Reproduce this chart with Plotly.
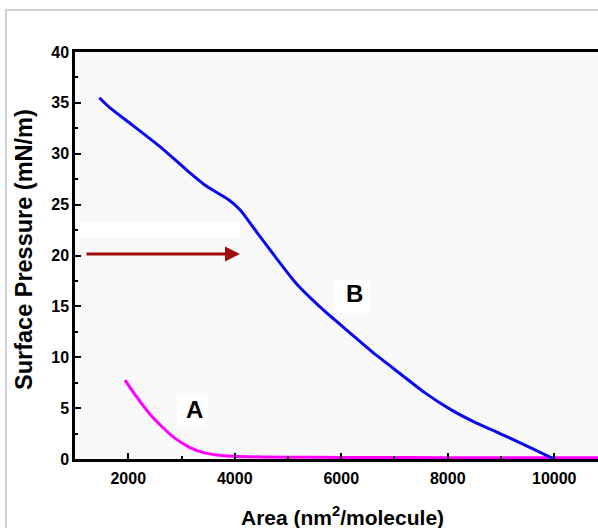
import plotly.graph_objects as go

# ---- data ----
area_A = [1939, 2158, 2408, 2659, 2900, 3150, 3400, 3660, 3970, 4500, 5500, 6500, 8000, 9500, 10822]
pressure_A = [7.76, 6.1, 4.4, 3.05, 1.95, 1.15, 0.65, 0.4, 0.27, 0.2, 0.17, 0.15, 0.13, 0.12, 0.12]

area_B = [1457, 1657, 2033, 2596, 3097, 3473, 3879, 4099, 4412, 4787, 5163, 5695,
          6164, 6634, 7103, 7573, 8042, 8512, 8981, 9601, 9977]
pressure_B = [35.5, 34.5, 33.0, 30.7, 28.4, 26.8, 25.5, 24.5, 22.3, 19.7, 17.2, 14.5,
              12.4, 10.3, 8.4, 6.5, 4.9, 3.6, 2.5, 1.0, 0.05]

x_ticks = [2000, 4000, 6000, 8000, 10000]
y_ticks = [0, 5, 10, 15, 20, 25, 30, 35, 40]

labels = ["A", "B"]
label_x = [3235, 6258]
label_y = [4.9, 16.3]

arrow_start = (1188, 20.15)
arrow_end = (4099, 20.15)

FONT = "Liberation Sans, Arial, sans-serif"

fig = go.Figure()
fig.add_trace(go.Scatter(x=area_A, y=pressure_A, mode="lines",
                         line=dict(color="#ff00ff", width=3, shape="spline", smoothing=0.6),
                         showlegend=False, cliponaxis=True))
fig.add_trace(go.Scatter(x=area_B, y=pressure_B, mode="lines",
                         line=dict(color="#0a0af0", width=3, shape="spline", smoothing=0.6),
                         showlegend=False, cliponaxis=True))

shapes = [
    # outer light-gray frame
    dict(type="rect", xref="paper", yref="paper", x0=-0.132, x1=1.2, y0=-0.5, y1=1.103,
         line=dict(color="#c4c4c4", width=1.5), fillcolor="rgba(0,0,0,0)", layer="below"),
    # white strip above arrow
    dict(type="rect", xref="x", yref="y", x0=1094, x1=4099, y0=21.7, y1=23.3,
         line=dict(width=0), fillcolor="white", layer="below"),
    # white boxes behind labels
    dict(type="rect", xref="x", yref="y", x0=2915, x1=3498, y0=3.14, y1=6.29,
         line=dict(width=0), fillcolor="white", layer="below"),
    dict(type="rect", xref="x", yref="y", x0=5883, x1=6521, y0=14.35, y1=17.6,
         line=dict(width=0), fillcolor="white", layer="below"),
]

annotations = []
for t, lx, ly in zip(labels, label_x, label_y):
    annotations.append(dict(x=lx, y=ly, xref="x", yref="y", text=t, showarrow=False,
                            font=dict(family=FONT, size=24, color="black", weight="bold"),
                            xanchor="center", yanchor="middle"))

annotations.append(dict(x=arrow_end[0], y=arrow_end[1], ax=arrow_start[0], ay=arrow_start[1],
                        xref="x", yref="y", axref="x", ayref="y", text="", showarrow=True,
                        arrowhead=2, arrowsize=1.0, arrowwidth=3, arrowcolor="#a00c0c"))

# axis titles
annotations.append(dict(x=-0.0975, y=0.5135, xref="paper", yref="paper",
                        text="Surface Pressure (mN/m)", textangle=-90, showarrow=False,
                        font=dict(family=FONT, size=23.5, color="black", weight="bold"),
                        xanchor="center", yanchor="middle"))
annotations.append(dict(x=0.512, y=-0.103, xref="paper", yref="paper",
                        text="Area (nm<sup>2</sup>/molecule)", showarrow=False,
                        font=dict(family=FONT, size=21, color="black", weight="bold"),
                        xanchor="center", yanchor="top"))

fig.update_layout(
    width=598, height=528,
    margin=dict(l=75, r=0, t=52, b=69),
    paper_bgcolor="white", plot_bgcolor="#f9f9f9",
    shapes=shapes, annotations=annotations,
    font=dict(family=FONT, color="black"),
)

fig.update_xaxes(range=[1000, 10822], tickvals=x_ticks, ticktext=[str(v) for v in x_ticks],
                 ticks="inside", ticklen=6, tickwidth=2, tickcolor="black",
                 ticklabelstandoff=3,
                 showline=True, linecolor="black", linewidth=2.5, mirror=True,
                 showgrid=False, zeroline=False,
                 minor=dict(dtick=1000, tick0=0, ticks="inside", ticklen=3, tickwidth=2,
                            tickcolor="black", showgrid=False),
                 tickfont=dict(family=FONT, size=16, color="black", weight="bold"))
fig.update_yaxes(range=[0, 40], tickvals=y_ticks, ticktext=[str(v) for v in y_ticks],
                 ticks="inside", ticklen=6, tickwidth=2, tickcolor="black",
                 showline=True, linecolor="black", linewidth=2.5, mirror=False,
                 showgrid=False, zeroline=False,
                 minor=dict(dtick=2.5, tick0=0, ticks="inside", ticklen=3, tickwidth=2,
                            tickcolor="black", showgrid=False),
                 tickfont=dict(family=FONT, size=16, color="black", weight="bold"))

fig.write_html("out.html")
